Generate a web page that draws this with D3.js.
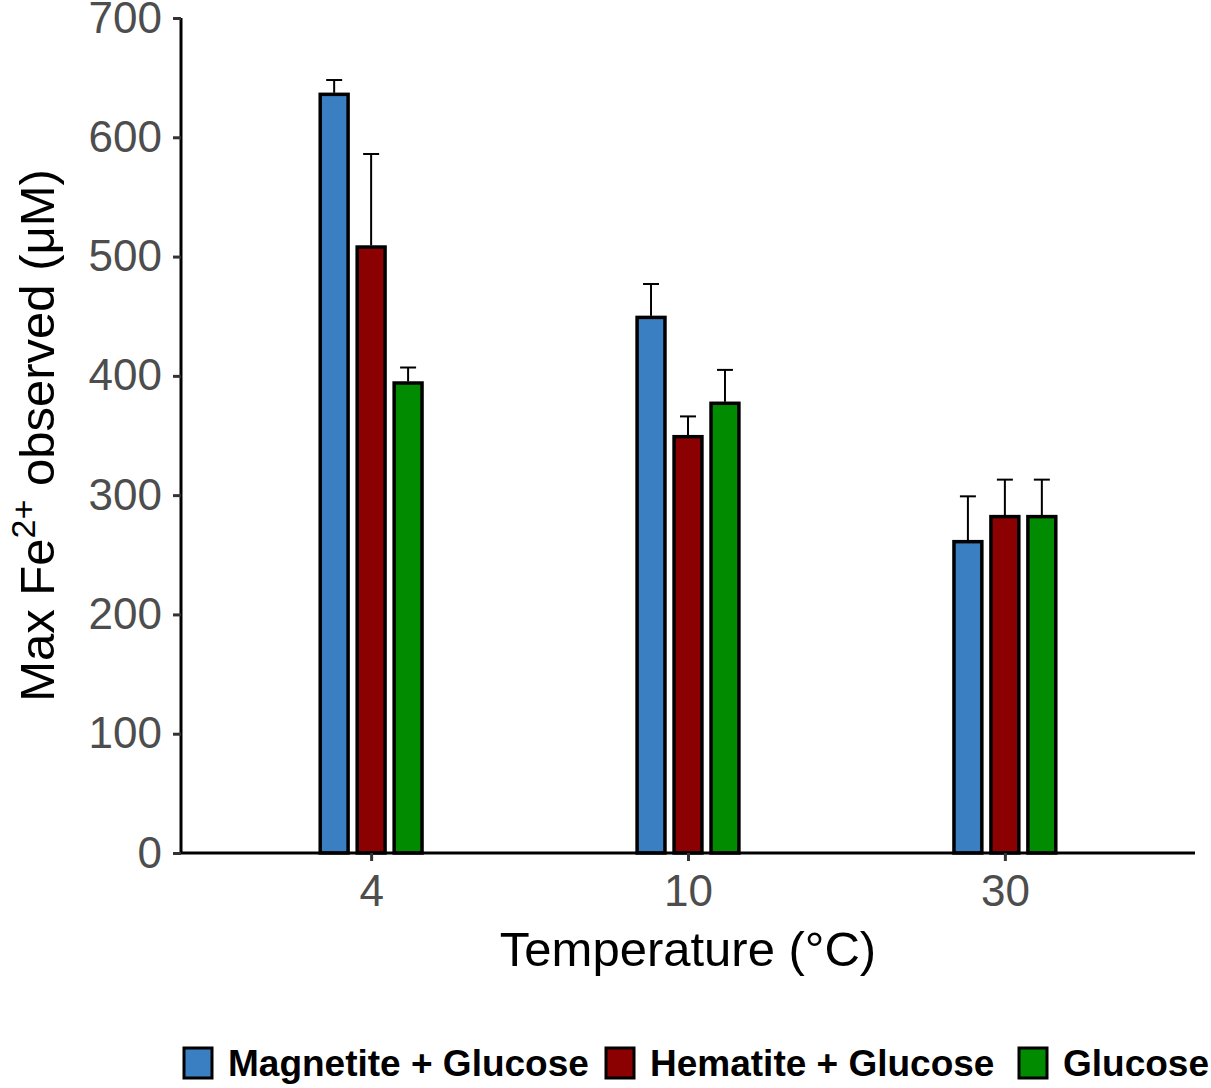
<!DOCTYPE html>
<html>
<head>
<meta charset="utf-8">
<script src="https://cdn.jsdelivr.net/npm/d3@7"></script>
<style>
  body { margin: 0; background: #fff; }
  svg { display: block; font-family: "Liberation Sans", Arial, sans-serif; }
</style>
</head>
<body>
<div id="chart"></div>
<script>
// ---- data ----
const temperatures = ['4', '10', '30'];
const treatments = ['Magnetite + Glucose', 'Hematite + Glucose', 'Glucose'];
const treatmentColors = ['#3A7FC1', '#8B0000', '#008B00'];
const magnetiteMean = [636, 449, 261];
const magnetiteUpper = [648, 477, 299];
const hematiteMean = [508, 349, 282];
const hematiteUpper = [586, 366, 313];
const glucoseMean = [394, 377, 282];
const glucoseUpper = [407, 405, 313];
const yTicks = [0, 100, 200, 300, 400, 500, 600, 700];

const means = [magnetiteMean, hematiteMean, glucoseMean];
const uppers = [magnetiteUpper, hematiteUpper, glucoseUpper];
const rows = [];
temperatures.forEach((t, i) => {
  treatments.forEach((s, j) => {
    rows.push({ temp: t, series: s, value: means[j][i], upper: uppers[j][i] });
  });
});

const W = 1211, H = 1088;
const margin = { top: 18, right: 16, bottom: 235, left: 181 };
const innerW = W - margin.left - margin.right;
const innerH = H - margin.top - margin.bottom;
const FONT = '"Liberation Sans", Arial, sans-serif';

const svg = d3.select('#chart').append('svg').attr('width', W).attr('height', H);
const g = svg.append('g').attr('transform', `translate(${margin.left},${margin.top})`);

// discrete axis with ggplot-like 0.6 expansion on both sides
const x = d3.scalePoint().domain(temperatures).range([0, innerW]).padding(0.6);
const y = d3.scaleLinear().domain([0, 700]).range([innerH, 0]);
const step = x.step();
const dodge = d3.scaleBand().domain(treatments).range([-0.175 * step, 0.175 * step]);
const color = d3.scaleOrdinal().domain(treatments).range(treatmentColors);
const barW = 0.088 * step;

// bars
g.selectAll('rect.bar').data(rows).join('rect')
  .attr('class', 'bar')
  .attr('x', d => x(d.temp) + dodge(d.series) + dodge.bandwidth() / 2 - barW / 2)
  .attr('width', barW)
  .attr('y', d => y(d.value))
  .attr('height', d => y(0) - y(d.value))
  .attr('fill', d => color(d.series))
  .attr('stroke', '#000').attr('stroke-width', 3.5);

// upper error bars
const capW = 16;
const err = g.selectAll('g.err').data(rows).join('g').attr('class', 'err')
  .attr('transform', d => `translate(${x(d.temp) + dodge(d.series) + dodge.bandwidth() / 2},0)`);
err.append('line').attr('x1', 0).attr('x2', 0)
  .attr('y1', d => y(d.value) - 1.5).attr('y2', d => y(d.upper))
  .attr('stroke', '#000').attr('stroke-width', 2);
err.append('line').attr('x1', -capW / 2).attr('x2', capW / 2)
  .attr('y1', d => y(d.upper)).attr('y2', d => y(d.upper))
  .attr('stroke', '#000').attr('stroke-width', 2);

// axes
const yAxisG = g.append('g').call(d3.axisLeft(y).tickValues(yTicks).tickSize(8).tickPadding(11));
const xAxisG = g.append('g').attr('transform', `translate(0,${innerH})`)
  .call(d3.axisBottom(x).tickSize(8).tickPadding(14));
[xAxisG, yAxisG].forEach(a => {
  a.select('.domain').attr('stroke', '#000').attr('stroke-width', 3);
  a.selectAll('.tick line').attr('stroke', '#333').attr('stroke-width', 3);
  a.selectAll('.tick text').attr('fill', '#4D4D4D').attr('font-size', '44px')
    .attr('font-family', FONT);
});
xAxisG.select('.domain').attr('d', `M0,0H${innerW}`);
yAxisG.select('.domain').attr('d', `M0,${innerH}V0`);

// axis titles
svg.append('text').attr('x', margin.left + innerW / 2).attr('y', 966)
  .attr('text-anchor', 'middle').attr('font-size', '49px').attr('fill', '#000')
  .text('Temperature (°C)');

const yt = svg.append('text').attr('transform', `translate(54,${margin.top + innerH / 2}) rotate(-90)`)
  .attr('text-anchor', 'middle').attr('font-size', '49px').attr('fill', '#000');
yt.append('tspan').text('Max Fe');
yt.append('tspan').attr('font-size', '34px').attr('dy', '-19').text('2+');
yt.append('tspan').attr('dy', '19').text(' observed (μM)');

// legend
const legend = svg.append('g').attr('transform', 'translate(0,1063)');
const legendX = [184, 606, 1019];
treatments.forEach((s, i) => {
  const item = legend.append('g').attr('transform', `translate(${legendX[i]},0)`);
  item.append('rect').attr('x', 0).attr('y', -15).attr('width', 28).attr('height', 30)
    .attr('fill', color(s)).attr('stroke', '#000').attr('stroke-width', 3);
  item.append('text').attr('x', 44).attr('y', 0).attr('dy', '0.36em')
    .attr('font-size', '37px').attr('font-weight', 'bold').attr('fill', '#000').text(s);
});
</script>
</body>
</html>
